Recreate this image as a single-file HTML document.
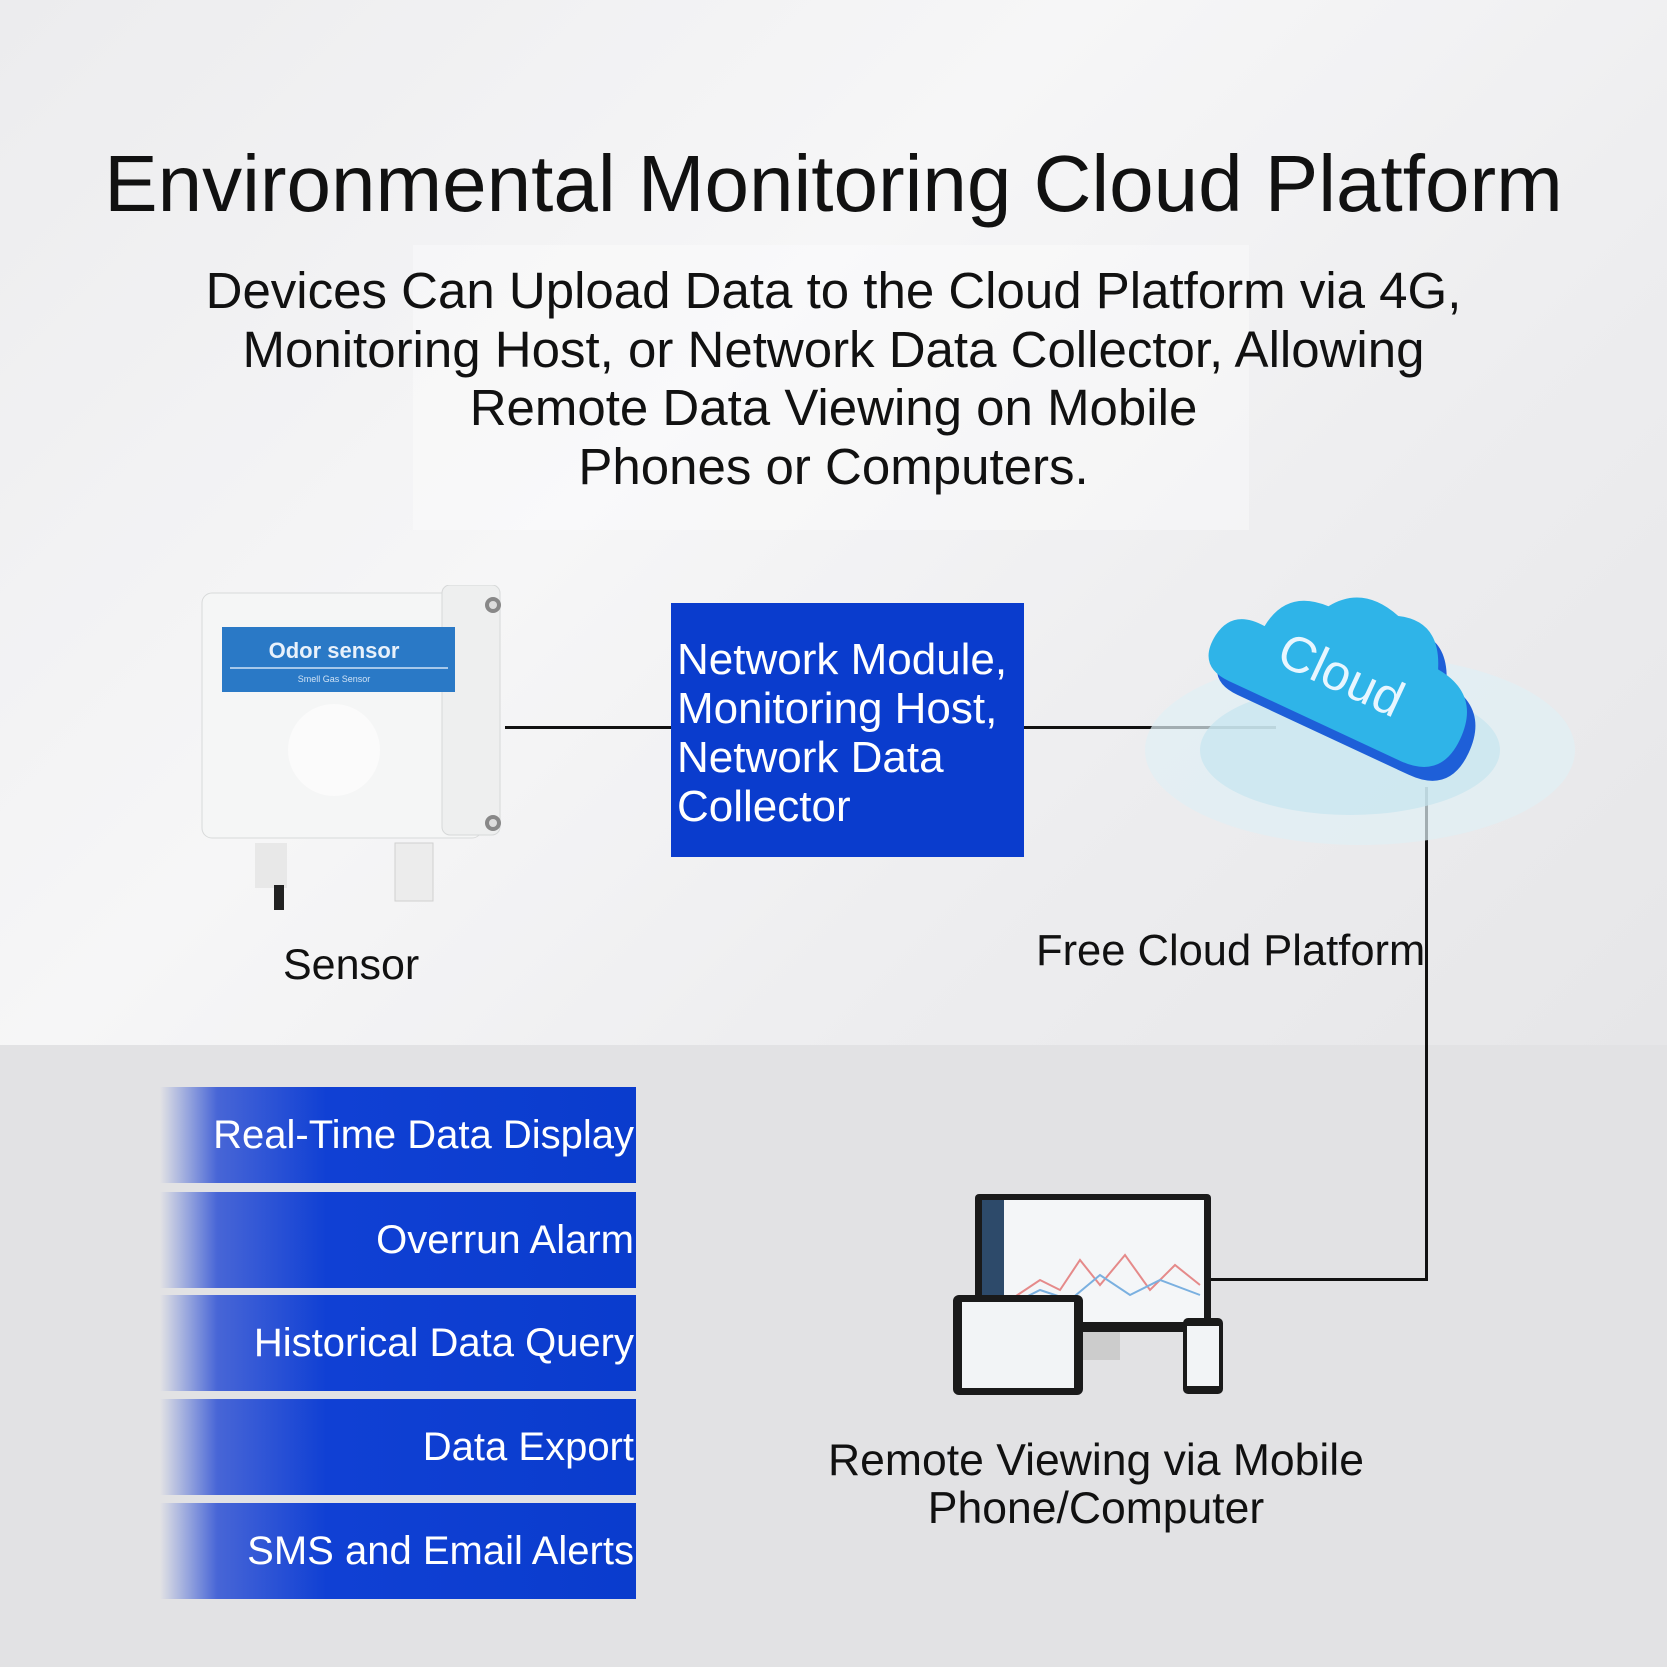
<!DOCTYPE html>
<html><head><meta charset="utf-8"><style>
body{margin:0}
#p{position:relative;width:1667px;height:1667px;overflow:hidden;background:#e2e2e4;font-family:"Liberation Sans",sans-serif;color:#111}
.t{position:absolute;white-space:nowrap}
.bar{position:absolute;left:160px;width:476px;height:96px;background:linear-gradient(90deg,rgba(20,60,210,0) 0%,rgba(20,60,210,0.75) 12%,#1040d4 35%,#0a3ccd 100%);color:#fff;font-size:40px;text-align:right;line-height:96px;box-sizing:border-box;padding-right:2px}
</style></head><body><div id="p">
<div style="position:absolute;left:0;top:0;width:1667px;height:1045px;background:linear-gradient(135deg,#ececee 0%,#f6f6f7 40%,#ededef 70%,#e6e6e8 100%)"></div>
<div style="position:absolute;left:413px;top:245px;width:836px;height:285px;background:rgba(255,255,255,0.35)"></div>
<div class="t" style="left:0;width:1667px;text-align:center;top:138px;font-size:80px">Environmental Monitoring Cloud Platform</div>
<div class="t" style="left:0;width:1667px;text-align:center;top:262px;font-size:51px;line-height:58.5px">Devices Can Upload Data to the Cloud Platform via 4G,<br>Monitoring Host, or Network Data Collector, Allowing<br>Remote Data Viewing on Mobile<br>Phones or Computers.</div>

<svg style="position:absolute;left:190px;top:585px" width="330" height="340">
<rect x="12" y="8" width="280" height="245" rx="10" fill="#f5f6f6" stroke="#d8dada"/>
<rect x="252" y="0" width="58" height="250" rx="8" fill="#eeefef" stroke="#d6d8d8"/>
<circle cx="303" cy="20" r="8" fill="#888"/><circle cx="303" cy="20" r="4" fill="#ddd"/>
<circle cx="303" cy="238" r="8" fill="#888"/><circle cx="303" cy="238" r="4" fill="#ddd"/>
<rect x="32" y="42" width="233" height="65" fill="#2a79c6"/>
<line x1="40" y1="83" x2="258" y2="83" stroke="#cfe2f5" stroke-width="1.5"/>
<text x="144" y="73" font-family="Liberation Sans" font-weight="bold" font-size="22" fill="#e8f1fb" text-anchor="middle">Odor sensor</text>
<text x="144" y="97" font-family="Liberation Sans" font-size="9" fill="#cfe2f5" text-anchor="middle">Smell Gas Sensor</text>
<circle cx="144" cy="165" r="46" fill="#fbfbfb"/>
<rect x="65" y="258" width="32" height="45" fill="#e8e8e8"/><rect x="84" y="300" width="10" height="25" fill="#222"/>
<rect x="205" y="258" width="38" height="58" fill="#ececec" stroke="#d0d0d0"/>
</svg>
<div class="t" style="left:283px;top:941px;font-size:43px">Sensor</div>

<div style="position:absolute;left:505px;top:726px;width:166px;height:3px;background:#111"></div>
<div style="position:absolute;left:1024px;top:726px;width:252px;height:3px;background:#111"></div>
<div style="position:absolute;left:1425px;top:787px;width:3px;height:494px;background:#111"></div>
<div style="position:absolute;left:1210px;top:1278px;width:218px;height:3px;background:#111"></div>

<div style="position:absolute;left:671px;top:603px;width:353px;height:254px;background:#0a3ccd"></div>
<div class="t" style="left:677px;top:635px;font-size:44px;line-height:49px;color:#fff">Network Module,<br>Monitoring Host,<br>Network Data<br>Collector</div>

<svg style="position:absolute;left:1140px;top:540px" width="440" height="330">
<ellipse cx="220" cy="210" rx="215" ry="95" fill="#dff0f5" opacity="0.7"/>
<ellipse cx="210" cy="210" rx="150" ry="65" fill="#c6e6ef" opacity="0.7"/>
<g transform="translate(40 40) scale(0.9) rotate(25 230 150)">
<path d="M70 200 Q30 200 35 160 Q40 125 80 128 Q85 80 135 78 Q160 40 210 55 Q255 40 275 90 Q330 95 330 150 Q330 200 280 200 Z" fill="#1e5fd8"/>
<path d="M55 190 Q15 190 20 150 Q25 115 65 118 Q70 70 120 68 Q145 30 195 45 Q240 30 260 80 Q315 85 315 140 Q315 190 265 190 Z" fill="#2fb4e8"/>
<text x="165" y="150" font-family="Liberation Sans" font-size="56" fill="#e8f6ff" text-anchor="middle">Cloud</text>
</g>
</svg>
<div class="t" style="left:1036px;top:927px;font-size:43.5px">Free Cloud Platform</div>

<div class="bar" style="top:1087px">Real-Time Data Display</div>
<div class="bar" style="top:1192px">Overrun Alarm</div>
<div class="bar" style="top:1295px">Historical Data Query</div>
<div class="bar" style="top:1399px">Data Export</div>
<div class="bar" style="top:1503px">SMS and Email Alerts</div>

<svg style="position:absolute;left:950px;top:1190px" width="295" height="210">
<rect x="25" y="4" width="236" height="138" rx="4" fill="#1a1a1a"/>
<rect x="32" y="10" width="222" height="122" fill="#f4f6f8"/>
<rect x="32" y="10" width="22" height="122" fill="#2d4a6a"/>
<polyline points="60,110 90,90 110,100 130,70 150,95 175,65 200,100 225,75 250,95" fill="none" stroke="#e58a8a" stroke-width="2"/>
<polyline points="60,115 90,100 120,110 150,85 180,105 210,90 250,105" fill="none" stroke="#7ab0e0" stroke-width="2"/>
<rect x="120" y="142" width="50" height="28" fill="#ccc"/>
<rect x="3" y="105" width="130" height="100" rx="6" fill="#1a1a1a"/>
<rect x="12" y="112" width="112" height="86" fill="#f2f4f6"/>
<rect x="233" y="128" width="40" height="76" rx="5" fill="#1a1a1a"/>
<rect x="237" y="136" width="32" height="60" fill="#f2f4f6"/>
</svg>
<div class="t" style="left:0;width:2192px;text-align:center;top:1437px;font-size:44.5px;line-height:48px">Remote Viewing via Mobile<br>Phone/Computer</div>
</div></body></html>
